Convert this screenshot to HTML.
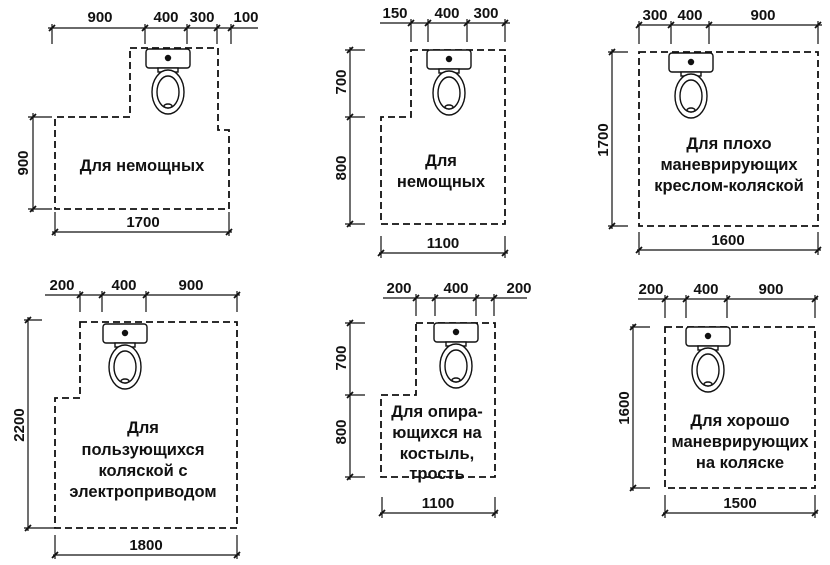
<!DOCTYPE html>
<html><head><meta charset="utf-8"><style>
html,body{margin:0;padding:0;background:#fff}
svg{display:block}
text{font-family:"Liberation Sans",Arial,sans-serif;font-weight:bold;fill:#111}
.n{font-size:15px}
.t{font-size:16.5px}
.d{fill:none;stroke:#111;stroke-width:1.8;stroke-dasharray:7 4}
.l{stroke:#111;stroke-width:1.2;fill:none}
.k{stroke:#111;stroke-width:1.8}
</style></head><body>
<svg width="830" height="565" viewBox="0 0 830 565" xmlns="http://www.w3.org/2000/svg">
<defs>
<g id="toilet" fill="#fff" stroke="#111" stroke-width="1.4">
<rect x="0" y="0" width="44" height="19" rx="3"/>
<circle cx="22" cy="9" r="2.5" fill="#111"/>
<rect x="12" y="19" width="20" height="4"/>
<ellipse cx="22" cy="43" rx="16" ry="22"/>
<ellipse cx="22" cy="43" rx="11" ry="16"/>
<ellipse cx="22" cy="57" rx="4" ry="2"/>
</g>
<path id="tk" d="M-3 3 L3 -3" class="k"/>
</defs>

<!-- Panel 1 -->
<path class="d" d="M130 48 H218 V130 H229 V209 H55 V117 H130 Z"/>
<use href="#toilet" x="146" y="49"/>
<path class="l" d="M48 28 H258 M52 24 V44 M145 24 V44 M187 24 V44 M217 24 V44 M231 24 V44"/>
<use href="#tk" x="52" y="28"/><use href="#tk" x="145" y="28"/><use href="#tk" x="187" y="28"/><use href="#tk" x="217" y="28"/><use href="#tk" x="231" y="28"/>
<text class="n" x="100" y="22" text-anchor="middle">900</text>
<text class="n" x="166" y="22" text-anchor="middle">400</text>
<text class="n" x="202" y="22" text-anchor="middle">300</text>
<text class="n" x="246" y="22" text-anchor="middle">100</text>
<path class="l" d="M33 113 V212 M28 117 H52 M28 209 H52"/>
<use href="#tk" x="33" y="117"/><use href="#tk" x="33" y="209"/>
<text class="n" transform="translate(28,163) rotate(-90)" text-anchor="middle">900</text>
<path class="l" d="M52 232 H232 M55 212 V236 M229 212 V236"/>
<use href="#tk" x="55" y="232"/><use href="#tk" x="229" y="232"/>
<text class="n" x="143" y="227" text-anchor="middle">1700</text>
<text class="t" x="142" y="171" text-anchor="middle">Для немощных</text>

<!-- Panel 2 -->
<path class="d" d="M411 50 H505 V224 H381 V117 H411 Z"/>
<use href="#toilet" x="427" y="50"/>
<path class="l" d="M380 23 H510 M411 19 V42 M428 19 V42 M467 19 V42 M505 19 V42"/>
<use href="#tk" x="411" y="23"/><use href="#tk" x="428" y="23"/><use href="#tk" x="467" y="23"/><use href="#tk" x="505" y="23"/>
<text class="n" x="395" y="18" text-anchor="middle">150</text>
<text class="n" x="447" y="18" text-anchor="middle">400</text>
<text class="n" x="486" y="18" text-anchor="middle">300</text>
<path class="l" d="M350 47 V227 M345 50 H365 M345 117 H365 M345 224 H365"/>
<use href="#tk" x="350" y="50"/><use href="#tk" x="350" y="117"/><use href="#tk" x="350" y="224"/>
<text class="n" transform="translate(346,82) rotate(-90)" text-anchor="middle">700</text>
<text class="n" transform="translate(346,168) rotate(-90)" text-anchor="middle">800</text>
<path class="l" d="M379 253 H508 M381 236 V258 M505 236 V258"/>
<use href="#tk" x="381" y="253"/><use href="#tk" x="505" y="253"/>
<text class="n" x="443" y="248" text-anchor="middle">1100</text>
<text class="t" x="441" y="166" text-anchor="middle">Для</text>
<text class="t" x="441" y="187" text-anchor="middle">немощных</text>

<!-- Panel 3 -->
<path class="d" d="M639 52 H818 V226 H639 Z"/>
<use href="#toilet" x="669" y="53"/>
<path class="l" d="M637 25 H822 M639 21 V44 M671 21 V44 M709 21 V44 M818 21 V44"/>
<use href="#tk" x="639" y="25"/><use href="#tk" x="671" y="25"/><use href="#tk" x="709" y="25"/><use href="#tk" x="818" y="25"/>
<text class="n" x="655" y="20" text-anchor="middle">300</text>
<text class="n" x="690" y="20" text-anchor="middle">400</text>
<text class="n" x="763" y="20" text-anchor="middle">900</text>
<path class="l" d="M612 49 V229 M608 52 H628 M608 226 H628"/>
<use href="#tk" x="612" y="52"/><use href="#tk" x="612" y="226"/>
<text class="n" transform="translate(608,140) rotate(-90)" text-anchor="middle">1700</text>
<path class="l" d="M637 250 H821 M639 232 V255 M818 232 V255"/>
<use href="#tk" x="639" y="250"/><use href="#tk" x="818" y="250"/>
<text class="n" x="728" y="245" text-anchor="middle">1600</text>
<text class="t" x="729" y="149" text-anchor="middle">Для плохо</text>
<text class="t" x="729" y="170" text-anchor="middle">маневрирующих</text>
<text class="t" x="729" y="191" text-anchor="middle">креслом-коляской</text>

<!-- Panel 4 -->
<path class="d" d="M80 322 H237 V528 H55 V398 H80 Z"/>
<use href="#toilet" x="103" y="324"/>
<path class="l" d="M45 295 H240 M80 291 V312 M102 291 V312 M146 291 V312 M237 291 V312"/>
<use href="#tk" x="80" y="295"/><use href="#tk" x="102" y="295"/><use href="#tk" x="146" y="295"/><use href="#tk" x="237" y="295"/>
<text class="n" x="62" y="290" text-anchor="middle">200</text>
<text class="n" x="124" y="290" text-anchor="middle">400</text>
<text class="n" x="191" y="290" text-anchor="middle">900</text>
<path class="l" d="M28 317 V531 M24 320 H42 M24 528 H55"/>
<use href="#tk" x="28" y="320"/><use href="#tk" x="28" y="528"/>
<text class="n" transform="translate(24,425) rotate(-90)" text-anchor="middle">2200</text>
<path class="l" d="M53 555 H240 M55 535 V559 M237 535 V559"/>
<use href="#tk" x="55" y="555"/><use href="#tk" x="237" y="555"/>
<text class="n" x="146" y="550" text-anchor="middle">1800</text>
<text class="t" x="143" y="433" text-anchor="middle">Для</text>
<text class="t" x="143" y="455" text-anchor="middle">пользующихся</text>
<text class="t" x="143" y="476" text-anchor="middle">коляской с</text>
<text class="t" x="143" y="497" text-anchor="middle">электроприводом</text>

<!-- Panel 5 -->
<path class="d" d="M416 323 H495 V477 H381 V395 H416 Z"/>
<use href="#toilet" x="434" y="323"/>
<path class="l" d="M383 298 H527 M416 294 V316 M435 294 V316 M476 294 V316 M494 294 V316"/>
<use href="#tk" x="416" y="298"/><use href="#tk" x="435" y="298"/><use href="#tk" x="476" y="298"/><use href="#tk" x="494" y="298"/>
<text class="n" x="399" y="293" text-anchor="middle">200</text>
<text class="n" x="456" y="293" text-anchor="middle">400</text>
<text class="n" x="519" y="293" text-anchor="middle">200</text>
<path class="l" d="M350 320 V480 M345 323 H365 M345 395 H365 M345 477 H365"/>
<use href="#tk" x="350" y="323"/><use href="#tk" x="350" y="395"/><use href="#tk" x="350" y="477"/>
<text class="n" transform="translate(346,358) rotate(-90)" text-anchor="middle">700</text>
<text class="n" transform="translate(346,432) rotate(-90)" text-anchor="middle">800</text>
<path class="l" d="M380 513 H498 M382 497 V518 M495 497 V518"/>
<use href="#tk" x="382" y="513"/><use href="#tk" x="495" y="513"/>
<text class="n" x="438" y="508" text-anchor="middle">1100</text>
<text class="t" x="437" y="417" text-anchor="middle">Для опира-</text>
<text class="t" x="437" y="438" text-anchor="middle">ющихся на</text>
<text class="t" x="437" y="459" text-anchor="middle">костыль,</text>
<text class="t" x="437" y="479" text-anchor="middle">трость</text>

<!-- Panel 6 -->
<path class="d" d="M665 327 H815 V488 H665 Z"/>
<use href="#toilet" x="686" y="327"/>
<path class="l" d="M638 299 H818 M665 295 V318 M686 295 V318 M727 295 V318 M815 295 V318"/>
<use href="#tk" x="665" y="299"/><use href="#tk" x="686" y="299"/><use href="#tk" x="727" y="299"/><use href="#tk" x="815" y="299"/>
<text class="n" x="651" y="294" text-anchor="middle">200</text>
<text class="n" x="706" y="294" text-anchor="middle">400</text>
<text class="n" x="771" y="294" text-anchor="middle">900</text>
<path class="l" d="M633 324 V491 M630 327 H650 M630 488 H650"/>
<use href="#tk" x="633" y="327"/><use href="#tk" x="633" y="488"/>
<text class="n" transform="translate(629,408) rotate(-90)" text-anchor="middle">1600</text>
<path class="l" d="M663 513 H818 M665 495 V518 M815 495 V518"/>
<use href="#tk" x="665" y="513"/><use href="#tk" x="815" y="513"/>
<text class="n" x="740" y="508" text-anchor="middle">1500</text>
<text class="t" x="740" y="426" text-anchor="middle">Для хорошо</text>
<text class="t" x="740" y="447" text-anchor="middle">маневрирующих</text>
<text class="t" x="740" y="468" text-anchor="middle">на коляске</text>
</svg>
</body></html>
